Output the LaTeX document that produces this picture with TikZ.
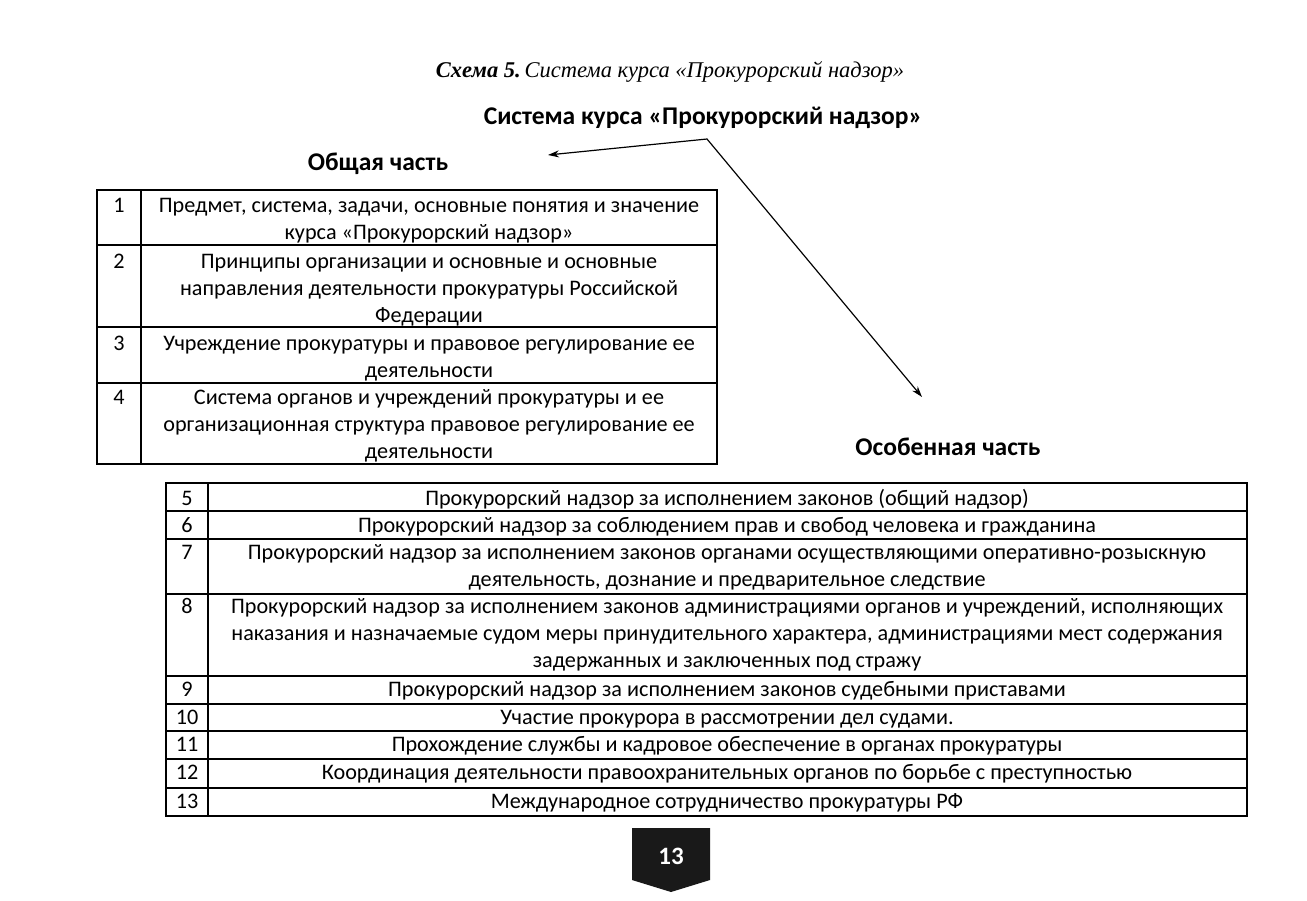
\documentclass[tikz,border=0pt]{standalone}
\usepackage{fontspec}
\setmainfont{Carlito}
\newfontfamily\capfont{Liberation Serif}
\usetikzlibrary{arrows.meta}
\begin{document}
\begin{tikzpicture}[x=1pt,y=-1pt,
  grid/.style={line width=1.1pt},
  cell/.style={inner sep=0pt, anchor=base, align=center, font=\fontsize{22.2}{27}\selectfont},
  num/.style={inner sep=0pt, anchor=base, font=\fontsize{22.2}{27}\selectfont},
  head/.style={inner sep=0pt, anchor=base, font=\bfseries\fontsize{25.5}{28}\selectfont},
  arr/.style={line width=1.2pt, {Stealth[length=11pt,width=7pt]}-{Stealth[length=11pt,width=7pt]}}]
\useasboundingbox[fill=white] (0,0) rectangle (1307,900);

% caption and headings
\node[inner sep=0pt, anchor=base, font=\capfont\itshape\fontsize{22.5}{24}\selectfont] (cap) at (670,77)
  {\textbf{Схема 5.}\,Система курса «Прокурорский надзор»};
\node[head] (sys) at (703,124) {Система курса «Прокурорский надзор»};
\node[head] (gen) at (378,170) {Общая часть};
\node[head] (spec) at (948,455) {Особенная часть};

% connector
\coordinate (split) at (707,139);
\coordinate (tipL) at (548,155);
\coordinate (tipR) at (922,397);
\draw[arr] (tipL) -- (split) -- (tipR);

% left table (text nodes anchored at the baseline of their last line)
\draw[grid] (97,190) rectangle (717,464);
\draw[grid] (141,190) -- (141,464);
\foreach \yy in {245,327,383} \draw[grid] (97,\yy) -- (717,\yy);
\node[num] (n1) at (119,212) {1};
\node[num] (n2) at (119,268) {2};
\node[num] (n3) at (119,350) {3};
\node[num] (n4) at (119,404) {4};
\node[cell] (t1) at (429,239) {Предмет, система, задачи, основные понятия и значение\\курса «Прокурорский надзор»};
\node[cell] (t2) at (429,322) {Принципы организации и основные и основные\\направления деятельности прокуратуры Российской\\Федерации};
\node[cell] (t3) at (429,377) {Учреждение прокуратуры и правовое регулирование ее\\деятельности};
\node[cell] (t4) at (429,458) {Система органов и учреждений прокуратуры и ее\\организационная структура правовое регулирование ее\\деятельности};

% right table
\draw[grid] (166,483) rectangle (1247,816);
\draw[grid] (208,483) -- (208,816);
\foreach \yy in {511,539,594,676,704,731,759,788} \draw[grid] (166,\yy) -- (1247,\yy);
\node[num] (n5) at (187,505) {5};
\node[num] (n6) at (187,532) {6};
\node[num] (n7) at (187,559) {7};
\node[num] (n8) at (187,613) {8};
\node[num] (n9) at (187,696) {9};
\node[num] (n10) at (187,724) {10};
\node[num] (n11) at (187,751) {11};
\node[num] (n12) at (187,779) {12};
\node[num] (n13) at (187,808) {13};
\node[cell] (t5) at (727,505) {Прокурорский надзор за исполнением законов (общий надзор)};
\node[cell] (t6) at (727,532) {Прокурорский надзор за соблюдением прав и свобод человека и гражданина};
\node[cell] (t7) at (727,586) {Прокурорский надзор за исполнением законов органами осуществляющими оперативно-розыскную\\деятельность, дознание и предварительное следствие};
\node[cell] (t8) at (727,667) {Прокурорский надзор за исполнением законов администрациями органов и учреждений, исполняющих\\наказания и назначаемые судом меры принудительного характера, администрациями мест содержания\\задержанных и заключенных под стражу};
\node[cell] (t9) at (727,696) {Прокурорский надзор за исполнением законов судебными приставами};
\node[cell] (t10) at (727,724) {Участие прокурора в рассмотрении дел судами.};
\node[cell] (t11) at (727,751) {Прохождение службы и кадровое обеспечение в органах прокуратуры};
\node[cell] (t12) at (727,779) {Координация деятельности правоохранительных органов по борьбе с преступностью};
\node[cell] (t13) at (727,808) {Международное сотрудничество прокуратуры РФ};

% page badge
\fill[black!90] (632,828) -- (710,828) -- (710,880) -- (671,892) -- (632,880) -- cycle;
\node[inner sep=0pt, text=white, font=\bfseries\fontsize{25}{28}\selectfont] (page) at (671,856) {13};
\end{tikzpicture}
\end{document}
